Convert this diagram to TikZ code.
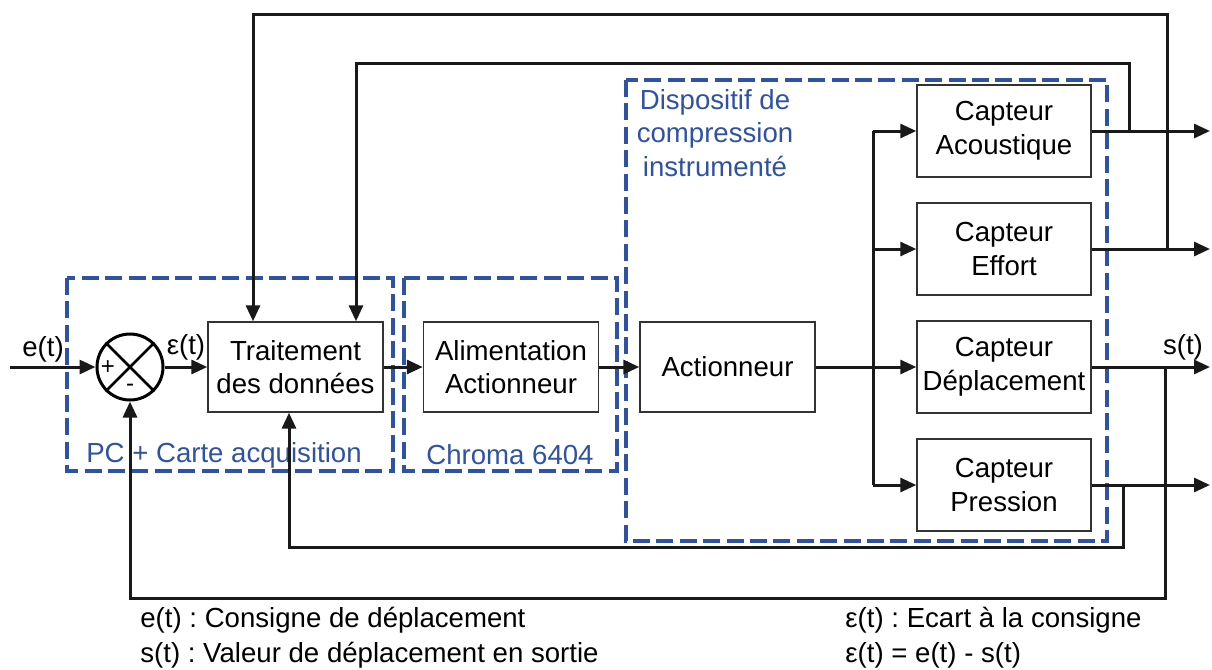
\documentclass[tikz,border=0pt]{standalone}
\usepackage{fontspec}
\setmainfont{Liberation Sans}
\usetikzlibrary{arrows.meta, calc}
\definecolor{dashblue}{RGB}{47,82,165}
\newcommand{\diagfont}{\fontsize{13.8}{16.8}\selectfont}
\frenchspacing

\begin{document}
\begin{tikzpicture}[
  x=0.5pt, y=-0.5pt,
  >={Triangle[length=8pt, width=7pt]},
  block/.style={rectangle, draw=black!80, line width=0.7pt, fill=white,
    minimum width=87.5pt, minimum height=45pt, inner xsep=1pt,
    align=center, font=\diagfont},
  sensor/.style={block, minimum width=87pt, minimum height=46pt},
  zone/.style={draw=dashblue, line width=1.9pt, dash pattern=on 8.5pt off 3.2pt},
  zlbl/.style={text=dashblue, font=\diagfont, inner sep=0pt, align=center},
  arr/.style={->, line width=1.5pt, black!90},
  wire/.style={line width=1.5pt, black!90},
  lbl/.style={font=\diagfont, inner sep=0pt},
]
\useasboundingbox (0,0) rectangle (1212,670);

% --- Dashed zones ---
\draw[zone] (67,278) rectangle (393,471);
\draw[zone] (404,278) rectangle (617,471);
\draw[zone] (626,80) rectangle (1107,541);
\node[zlbl] (pclbl) at (224,455) {PC + Carte acquisition};
\node[zlbl] (chlbl) at (510,455) {Chroma 6404};
\node[zlbl] (dlbl) at (715,133) {Dispositif de\\compression\\instrumenté};

% --- Blocks ---
\node[circle, draw, line width=1.5pt, minimum size=33pt, inner sep=0pt, fill=white] (sum) at (130,367) {};
\draw[line width=1.3pt] (sum.45) -- (sum.225) (sum.135) -- (sum.315);
\node[font=\fontsize{12}{13}\selectfont, inner sep=0pt] (plus) at (108,368) {+};
\node[font=\fontsize{12}{13}\selectfont, inner sep=0pt] (minus) at (130,388) {-};

\node[block] (trait) at (295.5,367) {Traitement\\des données};
\node[block] (alim)  at (511,367) {Alimentation\\Actionneur};
\node[block] (act)   at (727.5,367) {Actionneur};

\node[sensor] (acou)   at (1004,131) {Capteur\\Acoustique};
\node[sensor] (effort) at (1004,249) {Capteur\\Effort};
\node[sensor] (depl)   at (1004,367) {Capteur\\Déplacement};
\node[sensor] (press)  at (1004,485) {Capteur\\Pression};

% --- Forward path ---
\coordinate (in) at (10,367);
\coordinate (split) at (873,367);
\coordinate (outx) at (1210,0);

\draw[arr] (in) -- (sum.west);
\node[lbl] (elbl) at (43,349) {e(t)};
\draw[arr] (sum.east) -- (trait.west);
\node[lbl] (epslbl) at (186,347) {ε(t)};
\draw[arr] (trait.east) -- (alim.west);
\draw[arr] (alim.east) -- (act.west);
\draw[arr] (act.east) -- (depl.west);
\draw[wire] (split |- acou.west) -- (split |- press.west);
\draw[arr] (split |- acou.west) -- (acou.west);
\draw[arr] (split |- effort.west) -- (effort.west);
\draw[arr] (split |- press.west) -- (press.west);

% outputs
\draw[arr] (acou.east) -- (acou.east -| outx);
\draw[arr] (effort.east) -- (effort.east -| outx);
\draw[arr] (depl.east) -- (depl.east -| outx);
\draw[arr] (press.east) -- (press.east -| outx);
\node[lbl] (slbl) at (1183,347) {s(t)};

% --- Feedback loops ---
\coordinate (tapA) at (1129,0 |- acou.east);
\coordinate (tapE) at (1167,0 |- effort.east);
\coordinate (tapD) at (1165,0 |- depl.east);
\coordinate (tapP) at (1123,0 |- press.east);

\draw[arr] (tapE) -- (1167,14) -| (253,0 |- trait.north);
\draw[arr] (tapA) -- (1129,63) -| (356,0 |- trait.north);
\draw[arr] (tapP) -- (1123,547) -| (289,0 |- trait.south);
\draw[arr] (tapD) -- (1165,598) -| (sum.south);

% --- Legend ---
\node[lbl, anchor=west] (leg1) at (140,620) {e(t) : Consigne de déplacement};
\node[lbl, anchor=west] (leg2) at (140,655) {s(t) : Valeur de déplacement en sortie};
\node[lbl, anchor=west] (leg3) at (845,620) {ε(t) : Ecart à la consigne};
\node[lbl, anchor=west] (leg4) at (845,655) {ε(t) = e(t) - s(t)};

\end{tikzpicture}
\end{document}
